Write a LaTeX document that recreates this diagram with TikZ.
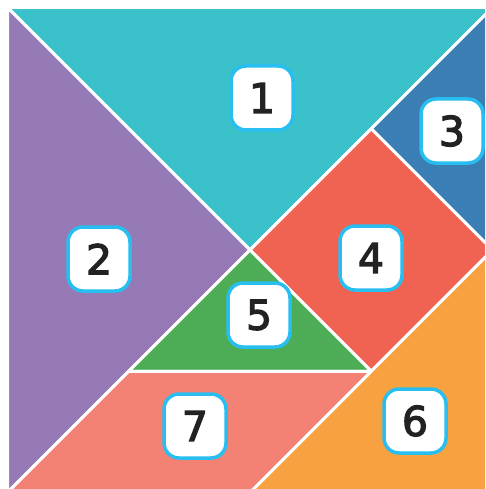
\documentclass[tikz,border=0pt]{standalone}
\usepackage{fontspec}
\usepackage{tikz}
\usetikzlibrary{positioning,calc}
\setmainfont{DejaVu Sans}
\newfontfamily\tagfont[FakeBold=3]{DejaVu Sans}
\definecolor{tealP}{RGB}{58,193,201}
\definecolor{violetP}{RGB}{150,122,181}
\definecolor{bleuP}{RGB}{58,126,180}
\definecolor{rougeP}{RGB}{240,98,82}
\definecolor{vertP}{RGB}{76,173,86}
\definecolor{orangeP}{RGB}{247,161,64}
\definecolor{roseP}{RGB}{243,130,117}
\definecolor{cadre}{RGB}{41,190,240}
\definecolor{chiffre}{RGB}{34,34,34}
\tikzset{
  piece/.style={fill=#1, draw=white, line width=3pt, line join=round},
  tag/.style={rectangle, rounded corners=15pt, draw=cadre, line width=3.5pt, fill=white,
              minimum width=62pt, minimum height=64pt, inner sep=0pt,
              font=\tagfont\fontsize{41}{41}\selectfont, text=chiffre},
}
\begin{document}
\begin{tikzpicture}[x=1pt, y=-1pt]
    \useasboundingbox (0,0) rectangle (485,489);
    \clip (0,0) rectangle (485,489);
    \coordinate (tl) at (7.5,7.5);
    \coordinate (tr) at (492.5,7.5);
    \coordinate (br) at (492.5,492.5);
    \coordinate (bl) at (7.5,492.5);
    \coordinate (c) at (250,250);
    \coordinate (q) at (371.25,128.75);
    \coordinate (r) at (492.5,250);
    \coordinate (d) at (371.25,371.25);
    \coordinate (g) at (128.75,371.25);
    \coordinate (m) at (250,492.5);
    \filldraw[piece=tealP] (tl) -- (tr) -- (c) -- cycle;
    \filldraw[piece=violetP] (tl) -- (c) -- (g) -- (bl) -- cycle;
    \filldraw[piece=bleuP] (tr) -- (r) -- (q) -- cycle;
    \filldraw[piece=rougeP] (c) -- (q) -- (r) -- (d) -- cycle;
    \filldraw[piece=vertP] (c) -- (d) -- (g) -- cycle;
    \filldraw[piece=orangeP] (r) -- (br) -- (m) -- cycle;
    \filldraw[piece=roseP] (g) -- (d) -- (m) -- (bl) -- cycle;
    \node[tag] (n1) at (262,98) {1};
    \node[tag] (n2) at (99,259) {2};
    \node[tag] (n3) at (452,131) {3};
    \node[tag] (n4) at (371,258) {4};
    \node[tag] (n5) at (259,315) {5};
    \node[tag] (n6) at (415,421) {6};
    \node[tag] (n7) at (195,426) {7};
  \end{tikzpicture}
\end{document}
